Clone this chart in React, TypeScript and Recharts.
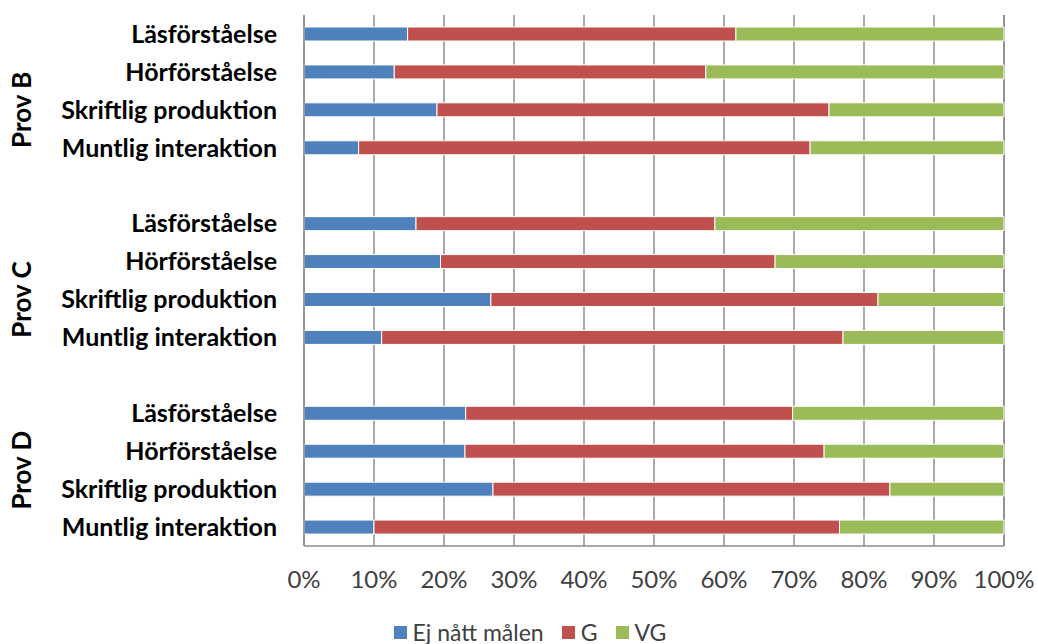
import { BarChart, Bar, XAxis, YAxis, CartesianGrid, Legend } from 'recharts';

const CATEGORIES = ['Läsförståelse', 'Hörförståelse', 'Skriftlig produktion', 'Muntlig interaktion'];
const GROUPS = ['Prov B', 'Prov C', 'Prov D'];

// percentages, group by group (B, C, D), in CATEGORIES order
const EJ_NATT = [14.8, 12.9, 19.0, 7.8, 16.0, 19.5, 26.7, 11.1, 23.1, 23.0, 27.0, 10.0];
const G_VALUES = [46.9, 44.5, 56.0, 64.5, 42.7, 47.8, 55.3, 65.9, 46.7, 51.3, 56.7, 66.5];
const VG_VALUES = [38.3, 42.6, 25.0, 27.7, 41.3, 32.7, 18.0, 23.0, 30.2, 25.7, 16.3, 23.5];

const X_TICKS = [0, 10, 20, 30, 40, 50, 60, 70, 80, 90, 100];

const SERIES = [
  { key: 'ej', name: 'Ej nått målen', color: '#4F81BD' },
  { key: 'g', name: 'G', color: '#C0504D' },
  { key: 'vg', name: 'VG', color: '#9BBB59' },
];

const W = 1038;
const H = 644;
const TOP = 15;
const RIGHT = 34;
const Y_AXIS_W = 304;
const LEGEND_H = 36;
const X_AXIS_H = 62;

const FONT = 'Lato, "Open Sans", sans-serif';

type Row = {
  key: string;
  label: string;
  group?: string;
  groupRows?: number;
  ej?: number;
  g?: number;
  vg?: number;
};

const rows: Row[] = [];
GROUPS.forEach((group, gi) => {
  const last = gi === GROUPS.length - 1;
  CATEGORIES.forEach((label, ci) => {
    const i = gi * CATEGORIES.length + ci;
    rows.push({
      key: `${gi}-${ci}`,
      label,
      group: ci === 0 ? group : undefined,
      groupRows: last ? CATEGORIES.length : CATEGORIES.length + 1,
      ej: EJ_NATT[i],
      g: G_VALUES[i],
      vg: VG_VALUES[i],
    });
  });
  if (!last) rows.push({ key: `gap-${gi}`, label: '' });
});

const ROW_STEP = (H - TOP - LEGEND_H - X_AXIS_H) / rows.length;

function CategoryTick(props: any) {
  const { y, index } = props;
  const row = rows[index];
  if (!row) return null;
  const mid = y + ((row.groupRows ?? 1) - 1) / 2 * ROW_STEP;
  return (
    <g>
      <text x={277} y={y} dy="0.35em" textAnchor="end" fontFamily={FONT} fontWeight={700} fontSize={25} fill="#000">
        {row.label}
      </text>
      {row.group && (
        <text
          x={22}
          y={mid}
          dy="0.35em"
          textAnchor="middle"
          fontFamily={FONT}
          fontWeight={700}
          fontSize={26}
          fill="#000"
          transform={`rotate(-90 22 ${mid})`}
        >
          {row.group}
        </text>
      )}
    </g>
  );
}

function PercentTick(props: any) {
  const { x, y, payload } = props;
  return (
    <text x={x} y={y + 42} textAnchor="middle" fontFamily={FONT} fontSize={24} fill="#404040">
      {`${payload.value}%`}
    </text>
  );
}

function LegendContent() {
  return (
    <div
      style={{
        height: LEGEND_H,
        boxSizing: 'border-box',
        paddingTop: 12,
        paddingLeft: 56,
        display: 'flex',
        justifyContent: 'center',
        alignItems: 'center',
        gap: 18,
        fontFamily: FONT,
        fontSize: 23,
        color: '#404040',
      }}
    >
      {SERIES.map((s) => (
        <span key={s.key} style={{ display: 'flex', alignItems: 'center', gap: 6 }}>
          <span style={{ width: 13, height: 13, background: s.color, display: 'inline-block' }} />
          {s.name}
        </span>
      ))}
    </div>
  );
}

export default function App() {
  return (
    <div style={{ position: 'absolute', left: 0, top: 0, width: W, height: H, background: '#fff' }}>
      <BarChart
        width={W}
        height={H}
        data={rows}
        layout="vertical"
        margin={{ top: TOP, right: RIGHT, left: 0, bottom: 0 }}
      >
        <CartesianGrid horizontal={false} stroke="#8c8c8c" strokeWidth={1.5} />
        <XAxis
          type="number"
          domain={[0, 100]}
          ticks={X_TICKS}
          interval={0}
          height={X_AXIS_H}
          tickLine={false}
          tickSize={0}
          tickMargin={0}
          axisLine={{ stroke: '#8c8c8c', strokeWidth: 1.5 }}
          tick={<PercentTick />}
        />
        <YAxis
          type="category"
          dataKey="key"
          width={Y_AXIS_W}
          interval={0}
          tickLine={false}
          tickSize={0}
          axisLine={{ stroke: '#8c8c8c', strokeWidth: 1.5 }}
          tick={<CategoryTick />}
        />
        <Legend verticalAlign="bottom" height={LEGEND_H} content={<LegendContent />} />
        {SERIES.map((s) => (
          <Bar
            key={s.key}
            dataKey={s.key}
            name={s.name}
            stackId="a"
            fill={s.color}
            stroke="#fff"
            strokeWidth={1}
            barSize={14}
            isAnimationActive={false}
          />
        ))}
      </BarChart>
    </div>
  );
}
